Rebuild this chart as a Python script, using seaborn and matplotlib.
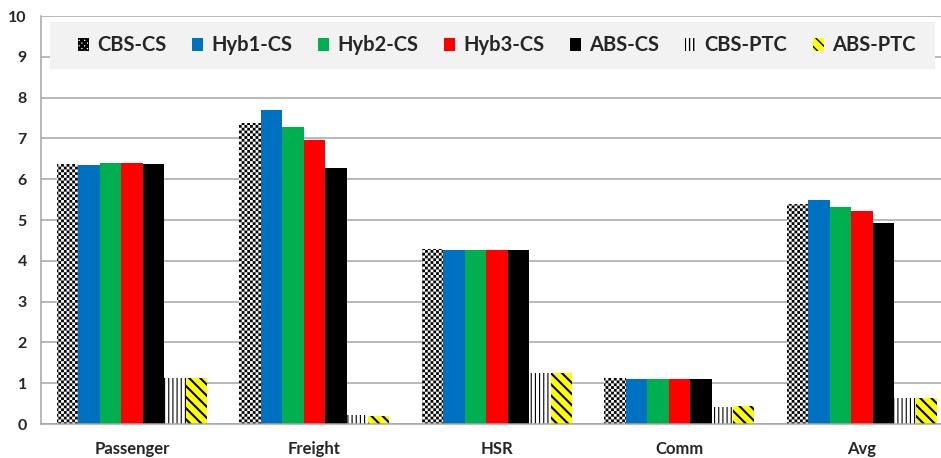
"""grouped bar chart: CS vs PTC schemes per traffic type"""

import numpy as np
import pandas as pd
import seaborn as sns
import matplotlib
matplotlib.use("Agg")
import matplotlib.pyplot as plt
from matplotlib import hatch as mhatch
from matplotlib.path import Path as MPath
from matplotlib.patches import Rectangle


categories = ["Passenger", "Freight", "HSR", "Comm", "Avg"]
series = ["CBS-CS", "Hyb1-CS", "Hyb2-CS", "Hyb3-CS", "ABS-CS", "CBS-PTC", "ABS-PTC"]

cbs_cs = [6.37, 7.38, 4.29, 1.13, 5.38]
hyb1_cs = [6.36, 7.70, 4.26, 1.10, 5.48]
hyb2_cs = [6.40, 7.28, 4.26, 1.10, 5.33]
hyb3_cs = [6.40, 6.96, 4.26, 1.10, 5.21]
abs_cs = [6.38, 6.27, 4.26, 1.10, 4.92]
cbs_ptc = [1.13, 0.22, 1.26, 0.42, 0.63]
abs_ptc = [1.13, 0.20, 1.26, 0.44, 0.63]

y_ticks = list(range(0, 11))


class CheckerHatch(mhatch.HatchPatternBase):
    """filled checkerboard squares, used in place of the 'O' hatch"""

    def __init__(self, hatch, density):
        n = int(hatch.count("O") * density)
        self.n = n + (n % 2)
        self.num_vertices = (self.n * self.n // 2) * 5 if n else 0

    def set_vertices_and_codes(self, vertices, codes):
        n = self.n
        step = 1.0 / n
        k = 0
        for i in range(n):
            for j in range(n):
                if (i + j) % 2:
                    continue
                x0, y0 = i * step, j * step
                x1, y1 = x0 + step, y0 + step
                vertices[k:k + 5] = [(x0, y0), (x1, y0), (x1, y1), (x0, y1), (x0, y0)]
                codes[k] = MPath.MOVETO
                codes[k + 1:k + 4] = MPath.LINETO
                codes[k + 4] = MPath.CLOSEPOLY
                k += 5


mhatch._hatch_types[mhatch._hatch_types.index(mhatch.LargeCircles)] = CheckerHatch

values = [cbs_cs, hyb1_cs, hyb2_cs, hyb3_cs, abs_cs, cbs_ptc, abs_ptc]
df = pd.DataFrame(
    [(c, s, v[i]) for s, v in zip(series, values) for i, c in enumerate(categories)],
    columns=["cat", "series", "value"],
)

face = ["white", "#0070C0", "#00B050", "#FF0000", "#000000", "white", "#FFFF00"]
hatches = ["OOOOOO", None, None, None, None, "||||", "\\\\\\"]
hatch_lw = [0.01, 1.0, 1.0, 1.0, 1.0, 0.8, 1.5]

sns.set_style("white")
plt.rcParams["font.family"] = ["Lato", "DejaVu Sans"]
plt.rcParams["font.weight"] = "bold"
plt.rcParams["hatch.color"] = "black"

fig = plt.figure(figsize=(9.41, 4.58), dpi=100)
ax = fig.add_axes([40.7 / 941, 34 / 458, 912.5 / 941, 408 / 458])

sns.barplot(
    data=df, x="cat", y="value", hue="series",
    order=categories, hue_order=series,
    palette=dict(zip(series, face)), width=0.822,
    saturation=1, legend=False, ax=ax,
)

for cont, fc, h, lw in zip(ax.containers, face, hatches, hatch_lw):
    for p in cont:
        p.set_facecolor(fc)
        p.set_edgecolor("black")
        p.set_linewidth(0)
        if h:
            p.set_hatch(h)
            if hasattr(p, "set_hatch_linewidth"):
                p.set_hatch_linewidth(lw)
            else:
                p._hatch_linewidth = lw

ax.set_xlim(-0.5, 4.5)
ax.set_ylim(0, 10)
ax.set_yticks(y_ticks)
ax.set_xlabel("")
ax.set_ylabel("")
ax.grid(axis="y", color="#a6a6a6", linewidth=1.1)
ax.set_axisbelow(True)

for side in ["top", "right"]:
    ax.spines[side].set_visible(False)
for side in ["left", "bottom"]:
    ax.spines[side].set_color("#a6a6a6")
    ax.spines[side].set_linewidth(1.1)

ax.set_xticks(np.arange(-0.5, 5, 1), minor=True)
ax.tick_params(axis="x", which="major", length=0, pad=12, labelsize=12)
ax.tick_params(axis="x", which="minor", length=6, color="#a6a6a6", width=1.1)
ax.tick_params(axis="y", length=4, color="#a6a6a6", width=1.1, pad=6, labelsize=11.5)

# grey band behind the legend
ax.add_patch(Rectangle((0.0102, 0.870), 0.970, 0.115, transform=ax.transAxes,
                       facecolor="#f2f2f2", edgecolor="none", zorder=4))

leg = ax.legend(
    handles=list(ax.containers), labels=series,
    ncol=7, mode="expand", loc="center",
    bbox_to_anchor=(0.0409, 0.878, 0.918, 0.1),
    frameon=False, borderaxespad=0, borderpad=0,
    handlelength=0.55, handleheight=0.65, handletextpad=0.4,
    prop={"weight": "bold", "size": 14.5},
)
leg.set_zorder(5)

fig.savefig("out.png", dpi=100)
